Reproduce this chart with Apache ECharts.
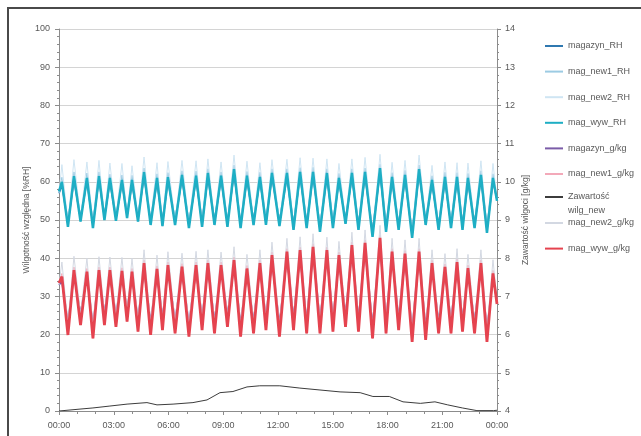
<!DOCTYPE html>
<html>
<head>
<meta charset="utf-8">
<script src="https://cdn.jsdelivr.net/npm/echarts@6/dist/echarts.min.js"></script>
<style>
  html, body { margin: 0; padding: 0; background: #fff; }
  #chart { width: 641px; height: 436px; }
</style>
</head>
<body>
<div id="chart"></div>
<script>
// hours (0-24) of each peak and each trough of the daily cycles
const peakHours = [0.16, 0.82, 1.53, 2.19, 2.79, 3.45, 4.00, 4.66, 5.37, 5.97, 6.74, 7.51, 8.16, 8.88, 9.59, 10.30, 11.01, 11.67, 12.49, 13.21, 13.92, 14.68, 15.34, 16.05, 16.77, 17.59, 18.25, 18.96, 19.73, 20.44, 21.15, 21.81, 22.41, 23.12, 23.78]
const troughHours = [0.49, 1.18, 1.86, 2.49, 3.12, 3.73, 4.33, 5.02, 5.67, 6.36, 7.12, 7.84, 8.52, 9.23, 9.95, 10.66, 11.34, 12.08, 12.85, 13.57, 14.30, 15.01, 15.70, 16.41, 17.18, 17.92, 18.61, 19.35, 20.09, 20.80, 21.48, 22.11, 22.77, 23.45]

// relative humidity [%RH]
const rhMagPeak = [59.3, 60.6, 60.4, 60.8, 60.1, 59.9, 59.6, 61.7, 60.2, 60.5, 61.0, 60.8, 61.4, 60.9, 62.4, 60.8, 60.6, 61.5, 61.4, 61.8, 61.9, 61.5, 60.3, 61.4, 61.8, 62.7, 60.5, 61.0, 62.5, 59.8, 60.4, 60.6, 60.2, 61.0, 60.3]
const rhMagTrough = [49.3, 50.5, 49.0, 50.9, 50.6, 51.4, 50.6, 49.8, 49.5, 49.7, 49.0, 49.3, 49.6, 49.3, 49.0, 49.7, 49.6, 49.5, 48.5, 49.0, 48.1, 49.0, 49.9, 48.5, 46.8, 48.0, 48.5, 46.5, 49.6, 48.4, 48.9, 48.5, 48.9, 47.8]
const rhMagEnds = [57.0, 55.5]
const rhNew1Peak = [61.2, 62.6, 62.3, 62.6, 62.0, 61.8, 61.7, 63.6, 62.1, 62.4, 62.9, 62.8, 63.4, 62.6, 64.4, 62.7, 62.5, 63.4, 63.4, 63.7, 63.8, 63.4, 62.2, 63.4, 63.6, 64.6, 62.4, 63.0, 64.4, 61.6, 62.5, 62.4, 62.2, 62.9, 62.1]
const rhNew2Peak = [64.5, 65.8, 65.2, 65.6, 64.9, 64.8, 64.2, 66.5, 65.0, 65.3, 65.6, 65.5, 66.0, 65.2, 67.0, 65.4, 65.0, 65.8, 65.9, 66.3, 66.2, 66.0, 64.8, 66.0, 66.4, 67.2, 65.1, 65.6, 67.0, 64.3, 65.2, 65.0, 64.9, 65.5, 64.8]
const rhWywPeak = [60.0, 61.5, 61.0, 61.5, 61.0, 60.5, 60.5, 62.5, 61.0, 61.2, 61.8, 61.6, 62.3, 61.6, 63.3, 61.6, 61.3, 62.3, 62.3, 62.6, 62.6, 62.3, 61.0, 62.3, 62.6, 63.6, 61.3, 61.8, 63.3, 60.5, 61.3, 61.3, 61.0, 61.8, 61.0]
const rhWywTrough = [48.2, 49.6, 47.9, 50.0, 49.8, 50.5, 49.6, 48.7, 48.4, 48.7, 47.9, 48.2, 48.7, 48.2, 47.9, 48.7, 48.7, 48.4, 47.4, 47.9, 46.9, 47.9, 49.0, 47.4, 45.6, 46.9, 47.4, 45.3, 48.7, 47.4, 47.9, 47.4, 47.9, 46.6]
const rhWywEnds = [57.5, 55.0]

// moisture content [g/kg]
const gkMagPeak = [7.40, 7.57, 7.54, 7.58, 7.56, 7.55, 7.53, 7.74, 7.60, 7.70, 7.66, 7.70, 7.75, 7.70, 7.82, 7.62, 7.75, 7.95, 8.05, 8.09, 8.17, 8.09, 7.96, 8.21, 8.27, 8.40, 8.05, 8.00, 8.05, 7.75, 7.66, 7.78, 7.62, 7.75, 7.49]
const gkMagTrough = [6.30, 6.54, 6.22, 6.55, 6.50, 6.62, 6.38, 6.30, 6.42, 6.33, 6.26, 6.42, 6.34, 6.50, 6.25, 6.33, 6.42, 6.26, 6.42, 6.33, 6.34, 6.38, 6.50, 6.38, 6.21, 6.33, 6.42, 6.12, 6.17, 6.33, 6.34, 6.38, 6.33, 6.12]
const gkMagEnds = [7.3, 6.9]
const gkNew1Peak = [7.60, 7.77, 7.73, 7.77, 7.77, 7.75, 7.73, 7.95, 7.80, 7.90, 7.86, 7.90, 7.95, 7.90, 8.03, 7.81, 7.95, 8.16, 8.25, 8.29, 8.38, 8.29, 8.16, 8.42, 8.48, 8.61, 8.25, 8.20, 8.25, 7.95, 7.85, 7.98, 7.82, 7.95, 7.68]
const gkNew2Peak = [7.90, 8.05, 8.00, 8.04, 8.03, 8.02, 8.00, 8.22, 8.08, 8.17, 8.13, 8.18, 8.22, 8.16, 8.30, 8.10, 8.22, 8.42, 8.52, 8.56, 8.64, 8.55, 8.44, 8.68, 8.74, 8.86, 8.52, 8.48, 8.52, 8.22, 8.12, 8.25, 8.10, 8.22, 7.96]
const gkWywPeak = [7.52, 7.69, 7.65, 7.69, 7.69, 7.67, 7.65, 7.87, 7.72, 7.82, 7.78, 7.82, 7.87, 7.82, 7.95, 7.73, 7.87, 8.08, 8.17, 8.21, 8.30, 8.21, 8.08, 8.34, 8.40, 8.53, 8.17, 8.12, 8.17, 7.87, 7.77, 7.90, 7.74, 7.87, 7.60]
const gkWywTrough = [5.99, 6.25, 5.90, 6.25, 6.20, 6.34, 6.08, 5.99, 6.12, 6.03, 5.95, 6.12, 6.03, 6.20, 5.95, 6.03, 6.12, 5.95, 6.12, 6.03, 6.03, 6.08, 6.20, 6.08, 5.90, 6.03, 6.12, 5.81, 5.86, 6.03, 6.03, 6.08, 6.03, 5.81]
const gkWywEnds = [7.35, 6.8]

// Zawartość wilg_new [g/kg]
const zHours = [0, 1.15, 1.86, 2.79, 3.73, 4.82, 5.37, 6.25, 7.34, 8.11, 8.82, 9.53, 10.3, 11.0, 12.1, 13.2, 14.3, 15.4, 16.5, 17.2, 18.1, 18.85, 19.8, 20.6, 21.3, 22.1, 22.9, 23.8, 24]
const zVals = [4.00, 4.05, 4.08, 4.13, 4.18, 4.22, 4.16, 4.18, 4.22, 4.29, 4.48, 4.51, 4.63, 4.66, 4.66, 4.60, 4.55, 4.50, 4.48, 4.38, 4.38, 4.24, 4.20, 4.24, 4.16, 4.08, 4.01, 4.01, 4.02]

const wave = (peaks, troughs, ends) => {
  const pts = [[0, ends[0]]]
  peaks.forEach((p, i) => {
    pts.push([peakHours[i], p])
    if (i < troughs.length) pts.push([troughHours[i], troughs[i]])
  })
  pts.push([24, ends[1]])
  return pts
}

const font = 'Liberation Sans, Arial, sans-serif'
const txt = '#595959'

const line = (name, color, width, yIdx, data) => ({
  name,
  type: 'line',
  yAxisIndex: yIdx,
  symbol: 'none',
  animation: false,
  lineStyle: { color, width },
  itemStyle: { color },
  data
})

const legendBase = {
  orient: 'vertical',
  left: 545,
  padding: 0,
  icon: 'rect',
  itemWidth: 18,
  itemHeight: 2,
  itemGap: 15.6,
  textStyle: { fontFamily: font, fontSize: 9, color: txt, lineHeight: 10 }
}

const chart = echarts.init(document.getElementById('chart'))
chart.setOption({
  animation: false,
  grid: { left: 59, right: 144, top: 29, bottom: 25 },
  graphic: [{
    type: 'rect',
    shape: { x: 8, y: 8, width: 640, height: 440 },
    style: { fill: 'none', stroke: '#4a4a4a', lineWidth: 2 }
  }],
  legend: [
    Object.assign({}, legendBase, {
      top: 41,
      data: ['magazyn_RH', 'mag_new1_RH', 'mag_new2_RH', 'mag_wyw_RH', 'magazyn_g/kg', 'mag_new1_g/kg']
    }),
    Object.assign({}, legendBase, {
      top: 176,
      data: ['Zawartość wilg_new'],
      formatter: () => ' \nZawartość\nwilg_new',
      textStyle: { fontFamily: font, fontSize: 9, color: txt, lineHeight: 14 }
    }),
    Object.assign({}, legendBase, {
      top: 218,
      data: ['mag_new2_g/kg', 'mag_wyw_g/kg']
    })
  ],
  xAxis: {
    type: 'value',
    min: 0,
    max: 24,
    interval: 3,
    axisLine: { lineStyle: { color: '#8c8c8c' } },
    axisTick: { show: true, length: 4, lineStyle: { color: '#8c8c8c' } },
    minorTick: { show: true, splitNumber: 3, length: 3, lineStyle: { color: '#8c8c8c' } },
    splitLine: { show: false },
    axisLabel: {
      fontFamily: font, fontSize: 9, color: txt, margin: 10,
      formatter: v => String(v % 24).padStart(2, '0') + ':00'
    }
  },
  yAxis: [{
    type: 'value',
    min: 0,
    max: 100,
    interval: 10,
    name: 'Wilgotność względna [%RH]',
    nameLocation: 'middle',
    nameGap: 28,
    nameMoveOverlap: false,
    nameTextStyle: { fontFamily: font, fontSize: 8.5, color: txt },
    axisLine: { show: true, lineStyle: { color: '#8c8c8c' } },
    axisTick: { show: true, length: 4, lineStyle: { color: '#8c8c8c' } },
    minorTick: { show: true, splitNumber: 5, length: 2, lineStyle: { color: '#8c8c8c' } },
    splitLine: { lineStyle: { color: '#d4d4d4', width: 1 } },
    axisLabel: { fontFamily: font, fontSize: 9, color: txt, margin: 9 }
  }, {
    type: 'value',
    min: 4,
    max: 14,
    interval: 1,
    name: 'Zawartość wilgoci [g/kg]',
    nameLocation: 'middle',
    nameGap: 24,
    nameMoveOverlap: false,
    nameTextStyle: { fontFamily: font, fontSize: 8.5, color: txt },
    axisLine: { show: true, lineStyle: { color: '#8c8c8c' } },
    axisTick: { show: true, length: 4, lineStyle: { color: '#8c8c8c' } },
    minorTick: { show: true, splitNumber: 5, length: 2, lineStyle: { color: '#8c8c8c' } },
    splitLine: { show: false },
    axisLabel: { fontFamily: font, fontSize: 9, color: txt, margin: 8 }
  }],
  series: [
    line('magazyn_RH', '#2f78b0', 1.8, 0, wave(rhMagPeak, rhMagTrough, rhMagEnds)),
    line('mag_new1_RH', '#9ccbe3', 1, 0, wave(rhNew1Peak, rhWywTrough, rhWywEnds)),
    line('mag_new2_RH', '#cfe5f3', 1, 0, wave(rhNew2Peak, rhMagTrough, rhMagEnds)),
    line('mag_wyw_RH', '#1eaec4', 2.5, 0, wave(rhWywPeak, rhWywTrough, rhWywEnds)),
    line('magazyn_g/kg', '#7b5ca8', 1.8, 1, wave(gkMagPeak, gkMagTrough, gkMagEnds)),
    line('mag_new1_g/kg', '#f3a9b9', 1, 1, wave(gkNew1Peak, gkWywTrough, gkWywEnds)),
    line('Zawartość wilg_new', '#3c3c3c', 1, 1, zHours.map((h, i) => [h, zVals[i]])),
    line('mag_new2_g/kg', '#d3d8e2', 1, 1, wave(gkNew2Peak, gkMagTrough, gkMagEnds)),
    line('mag_wyw_g/kg', '#e5434f', 2.8, 1, wave(gkWywPeak, gkWywTrough, gkWywEnds))
  ]
})
</script>
</body>
</html>
